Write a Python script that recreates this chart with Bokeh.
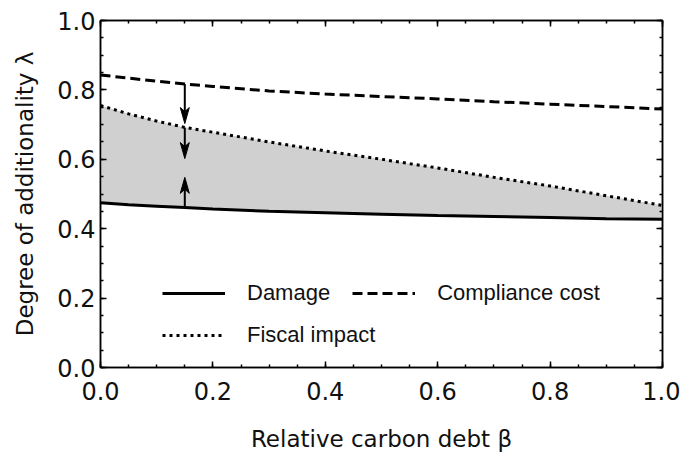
from bokeh.plotting import figure
from bokeh.models import (Range1d, LinearAxis, FixedTicker, NumeralTickFormatter,
                          Legend, LegendItem)
from bokeh.embed import file_html
from bokeh.resources import INLINE

# ---- data ----
beta = [0.0, 0.05, 0.1, 0.15, 0.2, 0.3, 0.4, 0.5, 0.6, 0.7, 0.8, 0.9, 1.0]
damage = [0.475, 0.469, 0.465, 0.461, 0.457, 0.450, 0.446, 0.442, 0.438, 0.435, 0.432, 0.429, 0.427]
compliance = [0.843, 0.834, 0.825, 0.817, 0.810, 0.797, 0.788, 0.781, 0.774, 0.766, 0.759, 0.752, 0.745]
fiscal = [0.755, 0.731, 0.710, 0.692, 0.678, 0.650, 0.624, 0.600, 0.575, 0.548, 0.523, 0.495, 0.467]

arrow_x = [0.15, 0.15, 0.15]
arrow_start = [0.817, 0.692, 0.461]
arrow_tip = [0.703, 0.602, 0.548]

major_ticks = [0.0, 0.2, 0.4, 0.6, 0.8, 1.0]
minor_ticks = [i / 20 for i in range(21)]

TICK_FONT = "DejaVu Sans"
LEGEND_FONT = "Liberation Sans"

p = figure(width=680, height=455, output_backend="svg", toolbar_location=None,
           x_range=Range1d(0, 1), y_range=Range1d(0, 1),
           min_border_left=100, min_border_right=18, min_border_top=20, min_border_bottom=88,
           x_axis_label="Relative carbon debt β", y_axis_label="Degree of additionality λ")
p.grid.visible = False
p.outline_line_color = "black"
p.outline_line_width = 1.5
p.background_fill_color = "white"
p.border_fill_color = "white"

# mirrored axes (ticks only)
top_axis = LinearAxis()
right_axis = LinearAxis()
p.add_layout(top_axis, "above")
p.add_layout(right_axis, "right")

bottom_axis = p.below[0]
left_axis = p.left[0]

for ax in (bottom_axis, left_axis, top_axis, right_axis):
    ax.ticker = FixedTicker(ticks=major_ticks, minor_ticks=minor_ticks)
    ax.formatter = NumeralTickFormatter(format="0.0")
    ax.axis_line_color = "black"
    ax.axis_line_width = 1.5
    ax.major_tick_in = 6
    ax.major_tick_out = 0
    ax.minor_tick_in = 3
    ax.minor_tick_out = 0
    ax.major_tick_line_color = "black"
    ax.minor_tick_line_color = "black"
    ax.major_tick_line_width = 1.5
    ax.minor_tick_line_width = 1.5
    ax.major_label_text_font = TICK_FONT
    ax.major_label_text_font_size = "24px"
    ax.major_label_text_color = "#111111"
    ax.axis_label_text_font = TICK_FONT
    ax.axis_label_text_font_size = "23px"
    ax.axis_label_text_font_style = "normal"
    ax.axis_label_text_color = "#111111"

for ax in (top_axis, right_axis):
    ax.major_label_text_alpha = 0
    ax.major_label_text_font_size = "1px"
    ax.major_label_standoff = 0

bottom_axis.major_label_standoff = 14
bottom_axis.axis_label_standoff = 23
left_axis.major_label_standoff = 5
left_axis.axis_label_standoff = 16

# shaded region between damage and fiscal impact
p.varea(x=beta, y1=damage, y2=fiscal, fill_color="#d0d0d0", fill_alpha=1.0)

r_damage = p.line(beta, damage, line_color="black", line_width=3)
r_comp = p.line(beta, compliance, line_color="black", line_width=3, line_dash="10 5")
r_fiscal = p.line(beta, fiscal, line_color="black", line_width=3, line_dash="3 4")

# arrows (shaft + stealth-style head) computed from the arrow arrays
head_len_px, head_half_w_px, notch_px = 16.0, 4.5, 4.0
frame_w, frame_h = 562.0, 347.0
hl = head_len_px / frame_h
hw = head_half_w_px / frame_w
nt = notch_px / frame_h
sx0, sx1, sy0, sy1 = [], [], [], []
hxs, hys = [], []
for x, y0, y1 in zip(arrow_x, arrow_start, arrow_tip):
    d = 1.0 if y1 > y0 else -1.0
    sx0.append(x); sx1.append(x)
    sy0.append(y0); sy1.append(y1 - d * (hl - nt))
    hxs.append([x, x - hw, x, x + hw])
    hys.append([y1, y1 - d * hl, y1 - d * (hl - nt), y1 - d * hl])
p.segment(x0=sx0, y0=sy0, x1=sx1, y1=sy1, line_color="black", line_width=2)
p.patches(xs=hxs, ys=hys, fill_color="black", line_color="black", line_width=1)

# legends
leg1 = Legend(items=[LegendItem(label="Damage", renderers=[r_damage]),
                     LegendItem(label="Compliance cost", renderers=[r_comp])],
              orientation="horizontal", location=(62, 61))
leg2 = Legend(items=[LegendItem(label="Fiscal impact", renderers=[r_fiscal])],
              orientation="horizontal", location=(62, 19))
for lg in (leg1, leg2):
    lg.border_line_alpha = 0
    lg.background_fill_alpha = 0
    lg.padding = 0
    lg.margin = 0
    lg.glyph_width = 63
    lg.glyph_height = 26
    lg.label_height = 26
    lg.label_standoff = 22
    lg.spacing = 22
    lg.label_text_font = LEGEND_FONT
    lg.label_text_font_size = "22px"
    lg.label_text_color = "#111111"
    p.add_layout(lg, "center")

open("out.html", "w").write(file_html(p, INLINE))
